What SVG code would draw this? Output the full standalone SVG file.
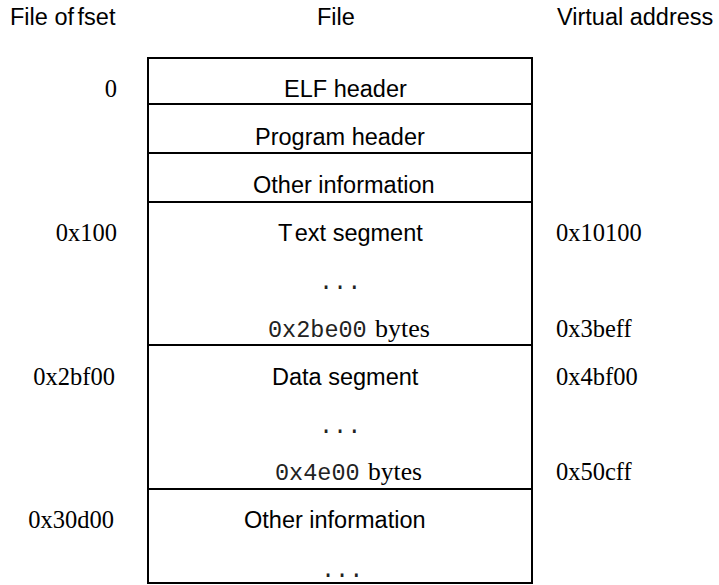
<svg xmlns="http://www.w3.org/2000/svg" width="719" height="585" viewBox="0 0 719 585">
  <style>
    .sans { font-family: "Liberation Sans", Arial, sans-serif; font-size: 23.5px; fill: #000; }
    .mono { font-family: "Liberation Mono", "Courier New", monospace; font-size: 23.5px; fill: #222; }
    .serif { font-family: "Liberation Serif", "Times New Roman", serif; font-size: 24.5px; fill: #000; }
    .cell { fill: #fff; stroke: #000; stroke-width: 2; }
  </style>

  <!-- column headings -->
  <g id="headings">
    <text class="sans" x="10" y="25">File of<tspan dx="4">fset</tspan></text>
    <text class="sans" x="317" y="25">File</text>
    <text class="sans" x="557" y="25">Virtual address</text>
  </g>

  <!-- file layout, one cell per region -->
  <g id="elf-header">
    <rect class="cell" x="148" y="58" width="384" height="46"/>
    <text class="sans" x="284" y="97">ELF header</text>
  </g>
  <g id="program-header">
    <rect class="cell" x="148" y="104" width="384" height="49"/>
    <text class="sans" x="255" y="145">Program header</text>
  </g>
  <g id="other-info-1">
    <rect class="cell" x="148" y="153" width="384" height="49"/>
    <text class="sans" x="253" y="193">Other information</text>
  </g>
  <g id="text-segment">
    <rect class="cell" x="148" y="202" width="384" height="143"/>
    <text class="sans" x="278" y="241">T<tspan dx="5">ext segment</tspan></text>
    <text class="mono" x="319" y="289">...</text>
    <text x="268" y="337"><tspan class="mono">0x2be00</tspan><tspan class="serif" x="375" textLength="55" lengthAdjust="spacingAndGlyphs">bytes</tspan></text>
  </g>
  <g id="data-segment">
    <rect class="cell" x="148" y="345" width="384" height="144"/>
    <text class="sans" x="272" y="385">Data segment</text>
    <text class="mono" x="319" y="433">...</text>
    <text x="275" y="480"><tspan class="mono">0x4e00</tspan><tspan class="serif" x="368" textLength="54" lengthAdjust="spacingAndGlyphs">bytes</tspan></text>
  </g>
  <g id="other-info-2">
    <rect class="cell" x="148" y="489" width="384" height="94"/>
    <text class="sans" x="244" y="528">Other information</text>
    <text class="mono" x="321" y="577">...</text>
  </g>

  <!-- file offsets -->
  <g id="offsets" text-anchor="end">
    <text class="serif" x="117" y="97">0</text>
    <text class="serif" x="117" y="241">0x100</text>
    <text class="serif" x="115" y="385">0x2bf00</text>
    <text class="serif" x="114" y="528">0x30d00</text>
  </g>

  <!-- virtual addresses -->
  <g id="addresses">
    <text class="serif" x="556" y="241">0x10100</text>
    <text class="serif" x="556" y="337">0x3beff</text>
    <text class="serif" x="556" y="385">0x4bf00</text>
    <text class="serif" x="556" y="480">0x50cff</text>
  </g>

  <!-- no connectors in this layout -->
  <g id="connectors"/>
</svg>
